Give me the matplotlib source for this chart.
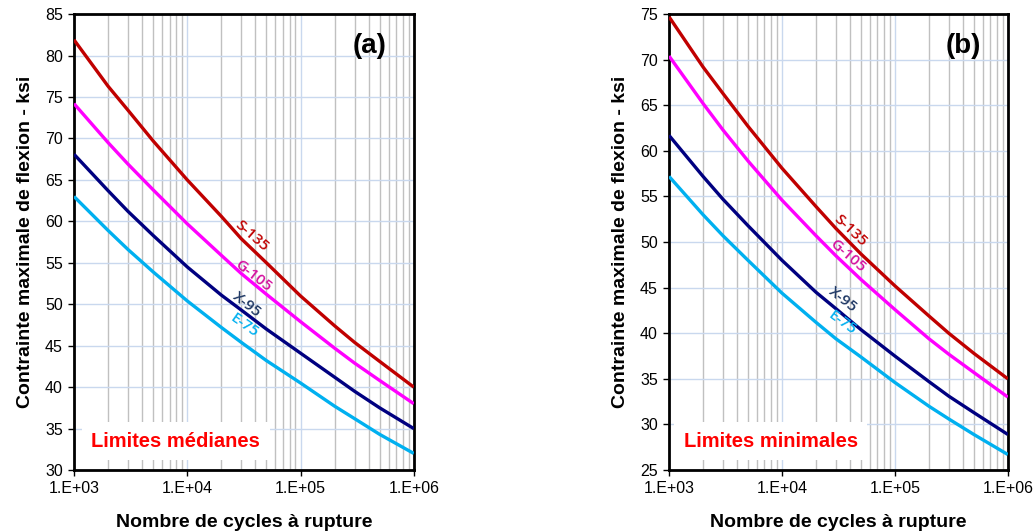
import math
import matplotlib
matplotlib.use("Agg")
import matplotlib.pyplot as plt
from matplotlib.ticker import LogLocator, FuncFormatter, NullFormatter

plt.rcParams['font.family'] = ['Liberation Sans', 'DejaVu Sans']

# Data
cycles = [1e3, 2e3, 3e3, 5e3, 1e4, 2e4, 3e4, 5e4, 1e5, 2e5, 3e5, 5e5, 1e6]
grades = ["S-135", "G-105", "X-95", "E-75"]

# (a) Limites medianes
s135_med = [81.9, 76.3, 73.4, 69.7, 65.0, 60.6, 57.9, 55.0, 51.0, 47.4, 45.4, 43.1, 40.0]
g105_med = [74.2, 69.5, 66.9, 63.8, 59.7, 55.9, 53.7, 51.2, 47.9, 44.7, 42.9, 40.8, 38.0]
x95_med = [68.1, 63.7, 61.2, 58.3, 54.5, 51.1, 49.3, 47.0, 44.1, 41.2, 39.5, 37.5, 35.0]
e75_med = [63.0, 58.9, 56.6, 53.9, 50.4, 47.2, 45.4, 43.2, 40.5, 37.7, 36.2, 34.3, 32.0]

# (b) Limites minimales
s135_min = [74.7, 69.2, 66.3, 62.7, 58.1, 53.9, 51.5, 48.7, 45.2, 41.9, 40.0, 37.8, 35.0]
g105_min = [70.4, 65.2, 62.3, 58.9, 54.6, 50.7, 48.5, 45.9, 42.6, 39.4, 37.7, 35.7, 33.0]
x95_min = [61.7, 57.2, 54.7, 51.8, 48.0, 44.5, 42.7, 40.4, 37.5, 34.7, 33.1, 31.3, 28.9]
e75_min = [57.2, 53.0, 50.7, 48.0, 44.4, 41.2, 39.4, 37.4, 34.6, 32.0, 30.6, 28.9, 26.7]

line_colors = ["#c00000", "#ff00ff", "#000080", "#00b0f0"]
text_colors = ["#c00000", "#d4109e", "#1f3864", "#00b0f0"]


def sci_label(x, pos):
    return "1.E+%02d" % int(round(math.log10(x)))


def draw_panel(ax, series, ymin, ymax, tag, note, label_pos, label_rot):
    ax.set_xscale("log")
    ax.set_xlim(1e3, 1e6)
    ax.set_ylim(ymin, ymax)
    ax.set_yticks(range(ymin, ymax + 1, 5))
    ax.xaxis.set_major_locator(LogLocator(base=10))
    ax.xaxis.set_minor_locator(LogLocator(base=10, subs=range(2, 10)))
    ax.xaxis.set_major_formatter(FuncFormatter(sci_label))
    ax.xaxis.set_minor_formatter(NullFormatter())

    # grid: light blue majors, grey minors on x
    ax.grid(True, which="major", axis="both", color="#c9d8ee", lw=1.0)
    ax.grid(True, which="minor", axis="x", color="#c0c0c0", lw=1.0)
    ax.set_axisbelow(True)

    for vals, col in zip(series, line_colors):
        ax.plot(cycles, vals, color=col, lw=2.4, solid_capstyle="butt",
                solid_joinstyle="round", zorder=3)

    # curve labels
    for name, (lx, ly), rot, col in zip(grades, label_pos, label_rot, text_colors):
        ax.text(lx, ly, name, color=col, rotation=rot, fontsize=11,
                fontweight="semibold", family=["Open Sans", "DejaVu Sans"],
                ha="center", va="center", zorder=4)

    ax.text(0.87, 0.93, tag, transform=ax.transAxes, fontsize=20,
            fontweight="bold", ha="center", va="center")
    ax.text(0.3, 0.063, note, transform=ax.transAxes, fontsize=14.5,
            fontweight="bold", color="#ff0000", ha="center", va="center",
            bbox=dict(facecolor="white", edgecolor="none", pad=7), zorder=2)

    for sp in ax.spines.values():
        sp.set_linewidth(2.0)
        sp.set_color("black")
    ax.tick_params(axis="both", which="major", direction="out", length=4,
                   width=1.0, labelsize=11.5, pad=4)
    ax.tick_params(axis="x", which="minor", length=0)
    ax.set_xlabel("Nombre de cycles à rupture", fontsize=14, fontweight="bold",
                  labelpad=13)
    ax.set_ylabel("Contrainte maximale de flexion - ksi", fontsize=14,
                  fontweight="bold", labelpad=8)


fig = plt.figure(figsize=(10.36, 5.32), dpi=100)
ax1 = fig.add_axes([0.0714, 0.1165, 0.328, 0.857])
ax2 = fig.add_axes([0.6458, 0.1165, 0.327, 0.857])

draw_panel(ax1, [s135_med, g105_med, x95_med, e75_med], 30, 85, "(a)",
           "Limites médianes",
           [(3.7e4, 58.3), (3.8e4, 53.4), (3.4e4, 49.9), (3.2e4, 47.4)],
           [-41, -38, -38, -35])
draw_panel(ax2, [s135_min, g105_min, x95_min, e75_min], 25, 75, "(b)",
           "Limites minimales",
           [(4.0e4, 51.3), (3.85e4, 48.5), (3.45e4, 43.7), (3.4e4, 41.2)],
           [-43, -41, -38, -36])

fig.savefig("out.png", dpi=100)
